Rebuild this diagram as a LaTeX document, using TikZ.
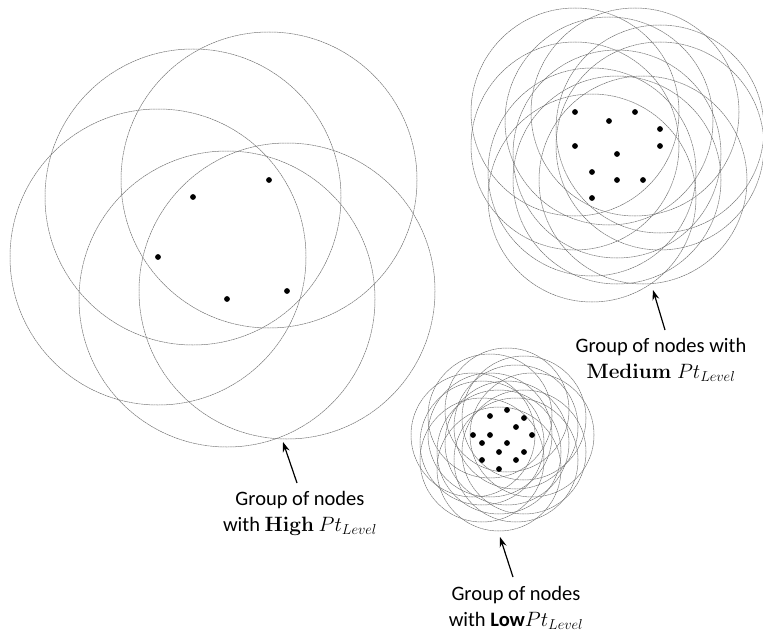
\documentclass[tikz,border=0pt]{standalone}
\usepackage[no-math]{fontspec}
\setmainfont{Carlito}
\usetikzlibrary{arrows.meta}

\def\alto{269/180,193/197,158/257,227/299,287/291}
\def\medio{575/112,609/121,635/112,660/129,575/146,660/146,617/154,592/172,617/180,643/180,592/198}
\def\basso{507/410,490/416,524/418,516/427,473/435,490/435,532/435,482/443,507/443,499/452,524/452,482/460,516/460,499/469}

\begin{document}
\begin{tikzpicture}[x=1pt,y=-1pt,
  raggio/.style={draw=black!55, line width=0.5pt, dash pattern=on 2pt off 0.5pt},
  nodo/.style={circle, fill=black, inner sep=0pt, minimum size=5.8pt},
  freccia/.style={-{Stealth[length=10pt,width=7pt]}, line width=1.2pt},
  etichetta/.style={align=center, inner sep=0pt, anchor=north, font=\fontsize{20.5}{26}\selectfont}]
\useasboundingbox (0,0) rectangle (763,634);
% gruppo Pt alto
\foreach \x/\y in \alto \draw[raggio] (\x,\y) circle (148);
\foreach \x/\y [count=\i] in \alto \node[nodo] (h\i) at (\x,\y) {};
% gruppo Pt medio
\foreach \x/\y in \medio \draw[raggio] (\x,\y) circle (104);
\foreach \x/\y [count=\i] in \medio \node[nodo] (m\i) at (\x,\y) {};
% gruppo Pt basso
\foreach \x/\y in \basso \draw[raggio] (\x,\y) circle (62);
\foreach \x/\y [count=\i] in \basso \node[nodo] (l\i) at (\x,\y) {};
% etichette
\node[etichetta] (talto) at (300,491) {Group of nodes\\with $\mathbf{High}$ $Pt_{Level}$};
\node[etichetta] (tmedio) at (661,338) {Group of nodes with\\$\mathbf{Medium}\;Pt_{Level}$};
\node[etichetta] (tbasso) at (516,586) {Group of nodes\\with \textbf{Low}$Pt_{Level}$};
% frecce
\coordinate (calto) at (297,483);
\coordinate (palto) at (283,442);
\coordinate (cmedio) at (665,330);
\coordinate (pmedio) at (653,290);
\coordinate (cbasso) at (513,577);
\coordinate (pbasso) at (500,537);
\draw[freccia] (calto) -- (palto);
\draw[freccia] (cmedio) -- (pmedio);
\draw[freccia] (cbasso) -- (pbasso);
\end{tikzpicture}
\end{document}
